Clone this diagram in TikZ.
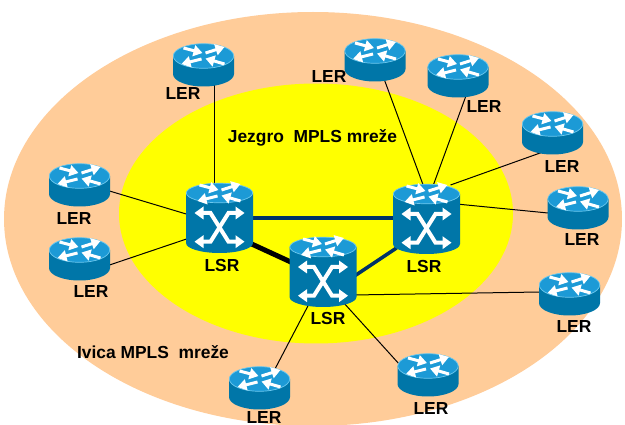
\documentclass[tikz,border=0pt]{standalone}
\usepackage{fontspec}
\setmainfont{Liberation Sans}
\usetikzlibrary{calc,arrows.meta}
\definecolor{rtop}{HTML}{1C9AD6}
\definecolor{rrim}{HTML}{6CC8EE}
\definecolor{rbody}{HTML}{0076A8}
\definecolor{navy}{HTML}{003366}
\definecolor{outerc}{HTML}{FFCC99}
\definecolor{innerc}{HTML}{FFFF00}
\tikzset{
  lbl/.style={font=\fontsize{17.4}{19}\selectfont\bfseries,inner sep=0pt},
  thin link/.style={draw=black,line width=1pt},
  core link/.style={draw=navy,line width=3.6pt},
  heavy link/.style={draw=black,line width=5pt},
  arr/.style={draw=white,fill=white,line width=3pt,-{Triangle[length=9pt,width=11pt]}},
  topcross/.pic={
    \draw[arr] (2,-3) -- (21,-9);
    \draw[arr] (-20,-8) -- (-1,-3);
    \draw[arr] (-2,3) -- (-22,8);
    \draw[arr] (21,8) -- (2,2.5);
  },
  lerrouter/.pic={
    \fill[rbody] (-30.5,0) -- (-30.5,18) arc[start angle=180,end angle=0,x radius=30.5,y radius=12.5] -- (30.5,0) -- cycle;
    \filldraw[fill=rtop,draw=rrim,line width=0.7pt] (0,0) ellipse[x radius=30.2,y radius=12.3];
    \pic {topcross};
  },
  lsrrouter/.pic={
    \fill[rbody] (-33.5,0) -- (-33.5,50) arc[start angle=180,end angle=0,x radius=33.5,y radius=10] -- (33.5,0) -- cycle;
    \filldraw[fill=rtop,draw=rrim,line width=0.7pt] (0,0) ellipse[x radius=33.2,y radius=9.8];
    \begin{scope}[xscale=0.95,yscale=0.72]\pic {topcross};\end{scope}
    \draw[white,line width=4pt,line join=miter] (-18,20) -- (-9,20) -- (9,48.7) -- (18,48.7);
    \draw[white,line width=4pt,line join=miter] (18,20) -- (9,20) -- (-9,48.7) -- (-18,48.7);
    \fill[white] (-25,20) -- (-16,13.5) -- (-16,26.5) -- cycle;
    \fill[white] (25,20) -- (16,13.5) -- (16,26.5) -- cycle;
    \fill[white] (-25,48.7) -- (-16,42.2) -- (-16,55.2) -- cycle;
    \fill[white] (25,48.7) -- (16,42.2) -- (16,55.2) -- cycle;
  }
}
\begin{document}
\begin{tikzpicture}[x=1pt,y=-1pt]
\useasboundingbox (0,0) rectangle (625,425);
\clip (0,0) rectangle (625,425);
\fill[white] (0,0) rectangle (625,425);
\fill[outerc] (313,219) ellipse[x radius=309,y radius=207];
\fill[innerc] (316,213.5) ellipse[x radius=197,y radius=130];
\coordinate (s1) at (219.5,193);
\coordinate (s2) at (323,247);
\coordinate (s3) at (426.5,194);
\coordinate (e1) at (203.5,56);
\coordinate (e2) at (375,51);
\coordinate (e3) at (458,67);
\coordinate (e4) at (552.5,124);
\coordinate (e5) at (578,199);
\coordinate (e6) at (569.5,285);
\coordinate (e7) at (428,366);
\coordinate (e8) at (259.5,379);
\coordinate (e9) at (79.5,176);
\coordinate (e10) at (79.5,250);
\path[core link] ($(s1)+(30,25)$) -- ($(s3)+(-30,24)$);
\path[heavy link] ($(s1)+(30,50)$) -- ($(s2)+(-30,16)$);
\path[core link] ($(s2)+(30,30)$) -- ($(s3)+(-30,54)$);
\path[thin link] ($(e1)+(10.5,20)$) -- ($(s1)+(-5.5,0)$);
\path[thin link] ($(e9)+(30,15)$) -- ($(s1)+(-30,22)$);
\path[thin link] ($(e10)+(30,15)$) -- ($(s1)+(-30,45)$);
\path[thin link] ($(e2)+(8,25)$) -- ($(s3)+(-3,-8)$);
\path[thin link] ($(e3)+(9,26)$) -- ($(s3)+(6.5,-8)$);
\path[thin link] ($(e4)+(-4,26)$) -- ($(s3)+(24,-9)$);
\path[thin link] ($(e5)+(-30,14)$) -- ($(s3)+(30,10)$);
\path[thin link] ($(e6)+(-30,7)$) -- ($(s2)+(30,48)$);
\path[thin link] ($(e7)+(-28,-1)$) -- ($(s2)+(20,55)$);
\path[thin link] ($(e8)+(16,-11)$) -- ($(s2)+(-13,55)$);
\pic at (s1) {lsrrouter};
\pic at (s2) {lsrrouter};
\pic at (s3) {lsrrouter};
\foreach \r in {e1,e2,e3,e4,e5,e6,e7,e8,e9,e10}{\pic at (\r) {lerrouter};}
\node[lbl] (t1) at (183,93.5) {LER};
\node[lbl] (t2) at (329,76.5) {LER};
\node[lbl] (t3) at (484,106.5) {LER};
\node[lbl] (t4) at (562,166.5) {LER};
\node[lbl] (t5) at (582,239.5) {LER};
\node[lbl] (t6) at (574,326.5) {LER};
\node[lbl] (t7) at (431,408.5) {LER};
\node[lbl] (t8) at (264,417.5) {LER};
\node[lbl] (t9) at (74,218.5) {LER};
\node[lbl] (t10) at (91,291.5) {LER};
\node[lbl] (t11) at (222,265.5) {LSR};
\node[lbl] (t12) at (424,266.5) {LSR};
\node[lbl] (t13) at (328,318.5) {LSR};
\node[lbl] (t14) at (312.5,137.5) {Jezgro\ \ MPLS mreže};
\node[lbl] (t15) at (153,352.5) {Ivica MPLS\ \ mreže};
\end{tikzpicture}
\end{document}
